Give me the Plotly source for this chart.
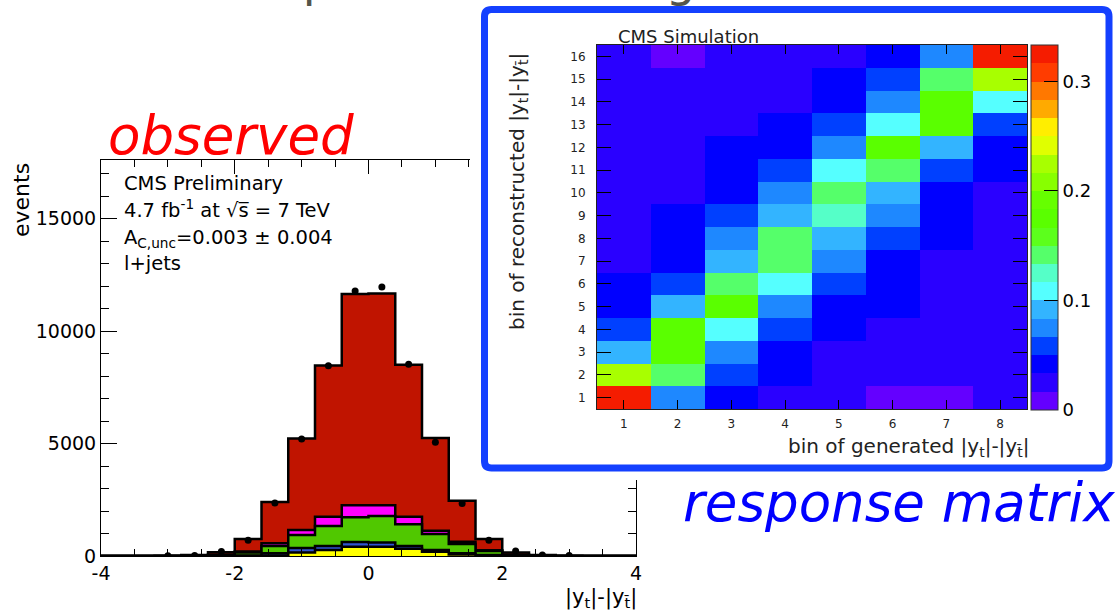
import numpy as np
import plotly.graph_objects as go

W, H = 1120, 614
FONT = "DejaVu Sans"


def px(x):
    return x / W


def py(y):
    return 1 - y / H


# observed |y_t|-|y_tbar| distribution, 20 bins from -4 to 4
bin_edges = np.linspace(-4, 4, 21)
bin_centers = 0.5 * (bin_edges[:-1] + bin_edges[1:])

n_data = [None, None, 10, 20, 200, 700, 2350, 5200, 8450, 11780,
          11960, 8520, 5060, 2330, 700, 220, 40, 20, None, None]
# stacked contributions, bottom to top
n_yellow = [0, 0, 0, 0, 0, 5, 20, 150, 265, 410,
            410, 325, 190, 70, 15, 0, 0, 0, 0, 0]
n_blue = [0, 0, 0, 0, 0, 15, 100, 200, 175, 210,
          190, 115, 75, 50, 25, 0, 0, 0, 0, 0]
n_green = [0, 0, 0, 0, 40, 130, 320, 580, 890, 1100,
           1180, 975, 710, 410, 180, 40, 0, 0, 0, 0]
n_magenta = [0, 0, 0, 0, 20, 50, 130, 220, 410, 540,
             480, 325, 145, 100, 30, 20, 10, 0, 0, 0]
n_red = [0, 5, 15, 40, 110, 550, 1830, 4070, 6730, 9380,
         9410, 6760, 4130, 1820, 500, 100, 30, 15, 5, 0]
stack_colors = ["#ffff00", "#2f55d0", "#50c800", "#ff00ff", "#c01400"]

# response matrix (rows = reconstructed bin 1..16, cols = generated bin 1..8)
gen_bins = list(range(1, 9))
reco_bins = list(range(1, 17))
response = [
    [0.325, 0.075, 0.042, 0.025, 0.025, 0.008, 0.008, 0.025],
    [0.225, 0.142, 0.058, 0.042, 0.025, 0.025, 0.025, 0.025],
    [0.092, 0.175, 0.075, 0.042, 0.025, 0.025, 0.025, 0.025],
    [0.058, 0.175, 0.108, 0.058, 0.042, 0.025, 0.025, 0.025],
    [0.042, 0.092, 0.175, 0.075, 0.042, 0.042, 0.025, 0.025],
    [0.042, 0.058, 0.142, 0.108, 0.058, 0.042, 0.025, 0.025],
    [0.025, 0.042, 0.092, 0.142, 0.075, 0.042, 0.025, 0.025],
    [0.025, 0.042, 0.075, 0.142, 0.092, 0.058, 0.042, 0.025],
    [0.025, 0.042, 0.058, 0.092, 0.125, 0.075, 0.042, 0.025],
    [0.025, 0.025, 0.042, 0.075, 0.142, 0.092, 0.042, 0.025],
    [0.025, 0.025, 0.042, 0.058, 0.108, 0.142, 0.058, 0.042],
    [0.025, 0.025, 0.042, 0.042, 0.075, 0.175, 0.092, 0.042],
    [0.025, 0.025, 0.025, 0.042, 0.058, 0.108, 0.175, 0.058],
    [0.025, 0.025, 0.025, 0.025, 0.042, 0.075, 0.175, 0.108],
    [0.025, 0.025, 0.025, 0.025, 0.042, 0.058, 0.142, 0.225],
    [0.025, 0.008, 0.025, 0.025, 0.025, 0.042, 0.075, 0.325],
]
z_max = 0.3333

# old ROOT "pretty" palette, 20 contour levels
palette = ["#6400ff", "#2a00ff", "#0000ff", "#0040ff", "#1e88ff",
           "#33b4ff", "#55ffff", "#55ffc8", "#55ff6a", "#5cff1c",
           "#5aff00", "#66ff00", "#88ff00", "#a8ff00", "#e0ff00",
           "#ffee00", "#ffaa00", "#ff7800", "#ff3c00", "#f51c00"]
colorscale = []
for i, c in enumerate(palette):
    colorscale.append([i / len(palette), c])
    colorscale.append([(i + 1) / len(palette), c])

fig = go.Figure()

# stacked histogram: draw cumulative sums from the top layer down
layers = np.array([n_yellow, n_blue, n_green, n_magenta, n_red], dtype=float)
cum = np.cumsum(layers, axis=0)
for k in range(len(layers) - 1, -1, -1):
    yv = list(cum[k]) + [cum[k][-1]]
    fig.add_trace(go.Scatter(
        x=bin_edges, y=yv, mode="lines", line_shape="hv",
        line=dict(color="black", width=2.5),
        fill="tozeroy", fillcolor=stack_colors[k],
        hoverinfo="skip", showlegend=False,
    ))

fig.add_trace(go.Scatter(
    x=bin_centers, y=n_data, mode="markers",
    marker=dict(color="black", size=7),
    showlegend=False,
))

# empty subplot that only carries the blue frame (sits above the histogram)
fig.add_trace(go.Scatter(x=[], y=[], xaxis="x2", yaxis="y2",
                         hoverinfo="skip", showlegend=False))

fig.add_trace(go.Heatmap(
    z=response, x=gen_bins, y=reco_bins, xaxis="x3", yaxis="y3",
    zmin=0, zmax=z_max, colorscale=colorscale,
    colorbar=dict(
        x=px(1031), xanchor="left", xpad=0,
        y=py(45), yanchor="top", ypad=0,
        len=365, lenmode="pixels", thickness=27,
        outlinewidth=1, outlinecolor="#333",
        ticks="inside", ticklen=14, tickcolor="black",
        tickvals=[0, 0.1, 0.2, 0.3],
        tickfont=dict(family=FONT, size=18, color="black"),
    ),
))

# rounded blue frame, in pixel units of the x2/y2 subplot
x0, x1, y0, y1, r = 484.5, 1109, 9.5, 468, 7
frame_path = (f"M {x0 + r},{y0} L {x1 - r},{y0} Q {x1},{y0} {x1},{y0 + r} "
              f"L {x1},{y1 - r} Q {x1},{y1} {x1 - r},{y1} L {x0 + r},{y1} "
              f"Q {x0},{y1} {x0},{y1 - r} L {x0},{y0 + r} Q {x0},{y0} {x0 + r},{y0} Z")
fig.add_shape(type="path", path=frame_path, xref="x2", yref="y2",
              line=dict(color="#1440ff", width=7), fillcolor="white",
              layer="below")

root_axis = dict(showline=True, linecolor="black", linewidth=1,
                 mirror="allticks", showgrid=False, zeroline=False,
                 ticks="inside", tickcolor="black")

fig.update_layout(
    width=W, height=H, autosize=False,
    margin=dict(l=0, r=0, t=0, b=0, pad=0, autoexpand=False),
    paper_bgcolor="white", plot_bgcolor="white",
    showlegend=False, hovermode=False,
    font=dict(family=FONT, color="black"),
    xaxis=dict(
        root_axis, domain=[px(101), px(636)], range=[-4, 4], anchor="y",
        tickvals=[-4, -2, 0, 2, 4], ticktext=["-4", "-2", "0", "2", "4"],
        ticklen=14, tickfont=dict(size=19),
        minor=dict(dtick=0.5, tick0=-4, ticks="inside", ticklen=7,
                   tickcolor="black"),
    ),
    yaxis=dict(
        root_axis, domain=[py(556), py(160)], range=[0, 17600], anchor="x",
        tickvals=[0, 5000, 10000, 15000],
        ticktext=["0", "5000", "10000", "15000"],
        ticklen=16, tickfont=dict(size=19),
        minor=dict(dtick=1000, ticks="inside", ticklen=8, tickcolor="black"),
    ),
    xaxis2=dict(domain=[px(470), px(1120)], range=[470, 1120], anchor="y2",
                visible=False, fixedrange=True),
    yaxis2=dict(domain=[py(480), py(0)], range=[480, 0], anchor="x2",
                visible=False, fixedrange=True),
    xaxis3=dict(
        root_axis, domain=[px(597), px(1027)], range=[0.5, 8.5], anchor="y3",
        linecolor="#222", tickvals=gen_bins, ticklen=9, ticklabelstandoff=4,
        tickfont=dict(size=12, color="#222"),
    ),
    yaxis3=dict(
        root_axis, domain=[py(409), py(45)], range=[0.5, 16.5], anchor="x3",
        linecolor="#222", tickvals=reco_bins, ticklen=14, ticklabelstandoff=8,
        tickfont=dict(size=12, color="#222"),
    ),
)

tbar = "t\u0304"
annotations = [
    # slide title, cut off at the top edge
    dict(text="Input for unfolding", x=px(257), y=py(-20), xanchor="left",
         yanchor="middle", font=dict(size=47, color="#55554a")),
    dict(text="<i>observed</i>", x=px(106), y=py(135), xanchor="left",
         yanchor="middle", font=dict(size=53, color="#ff0000")),
    dict(text="<i>response matrix</i>", x=px(681), y=py(502), xanchor="left",
         yanchor="middle", font=dict(size=53, color="#0000ff")),
    dict(text="CMS Preliminary", x=px(122), y=py(183), xanchor="left",
         yanchor="middle", font=dict(size=19.5)),
    dict(text="4.7 fb<sup>-1</sup> at \u221as\u0305 = 7 TeV", x=px(122), y=py(209),
         xanchor="left", yanchor="middle", font=dict(size=19.5)),
    dict(text="A<sub>C,unc</sub>=0.003 \u00b1 0.004", x=px(122), y=py(239),
         xanchor="left", yanchor="middle", font=dict(size=19.5)),
    dict(text="l+jets", x=px(122), y=py(263), xanchor="left",
         yanchor="middle", font=dict(size=19.5)),
    dict(text="events", x=px(22), y=py(200), textangle=-90, xanchor="center",
         yanchor="middle", font=dict(size=22)),
    dict(text=f"|y<sub>t</sub>|-|y<sub>{tbar}</sub>|", x=px(639), y=py(598),
         xanchor="right", yanchor="middle", font=dict(size=21)),
    dict(text="CMS Simulation", x=px(616), y=py(36), xanchor="left",
         yanchor="middle", font=dict(size=18, color="#222")),
    dict(text=f"bin of generated |y<sub>t</sub>|-|y<sub>{tbar}</sub>|",
         x=px(1031), y=py(447), xanchor="right", yanchor="middle",
         font=dict(size=20, color="#222")),
    dict(text=f"bin of reconstructed |y<sub>t</sub>|-|y<sub>{tbar}</sub>|",
         x=px(518), y=py(192), textangle=-90, xanchor="center",
         yanchor="middle", font=dict(size=20, color="#222")),
]
for a in annotations:
    a.update(xref="paper", yref="paper", showarrow=False)
fig.update_layout(annotations=annotations)

fig.write_html(
    "out.html",
    config={"displayModeBar": False},
    post_script="document.body.style.margin='0';"
                "document.body.style.overflow='hidden';",
)
